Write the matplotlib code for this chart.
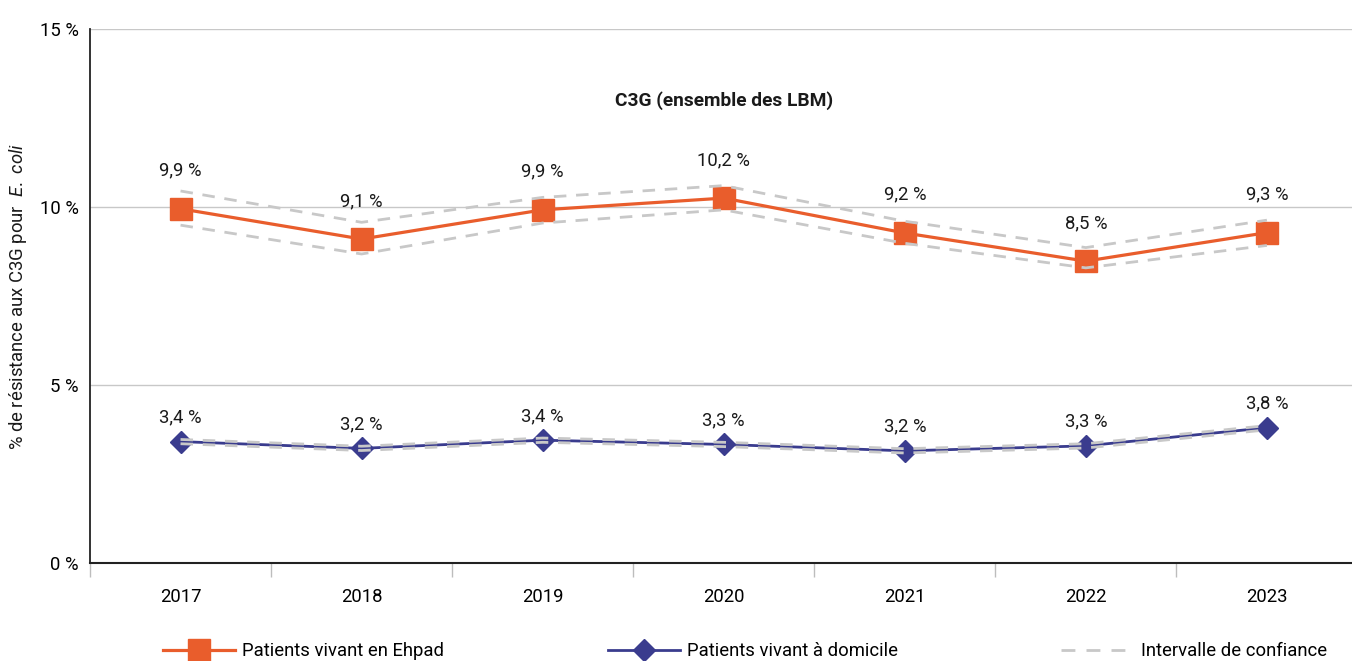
import matplotlib
matplotlib.use("Agg")
import matplotlib.pyplot as plt
from matplotlib.lines import Line2D
from matplotlib import font_manager

years = ["2017", "2018", "2019", "2020", "2021", "2022", "2023"]
ehpad = [9.95, 9.1, 9.92, 10.25, 9.27, 8.48, 9.28]
ehpad_labels = ["9,9 %", "9,1 %", "9,9 %", "10,2 %", "9,2 %", "8,5 %", "9,3 %"]
ehpad_low = [9.49, 8.68, 9.55, 9.92, 8.98, 8.29, 8.92]
ehpad_high = [10.45, 9.57, 10.27, 10.6, 9.6, 8.86, 9.63]
dom = [3.41, 3.22, 3.45, 3.33, 3.15, 3.29, 3.80]
dom_labels = ["3,4 %", "3,2 %", "3,4 %", "3,3 %", "3,2 %", "3,3 %", "3,8 %"]
dom_low = [3.35, 3.16, 3.39, 3.27, 3.09, 3.23, 3.74]
dom_high = [3.47, 3.28, 3.51, 3.39, 3.21, 3.35, 3.86]
yticks = [0, 5, 10, 15]
ytick_labels = ["0 %", "5 %", "10 %", "15 %"]

avail = {f.name for f in font_manager.fontManager.ttflist}
fam = "Liberation Sans Narrow" if "Liberation Sans Narrow" in avail else "Roboto"
plt.rcParams['font.family'] = [fam, 'DejaVu Sans']
plt.rcParams['mathtext.fontset'] = 'custom'
plt.rcParams['mathtext.it'] = fam + ':italic'
plt.rcParams['mathtext.rm'] = fam

ORANGE = "#E95D2C"
BLUE = "#3A3C8E"
GREY = "#C8C8C8"
FS = 13.3

fig = plt.figure(figsize=(13.52, 6.61), dpi=100)
ax = fig.add_axes([90/1352, 1-563/661, (1352-90)/1352, (563-29)/661])

x = list(range(len(years)))
ax.plot(x, ehpad, color=ORANGE, lw=2.3, marker='s', ms=16, zorder=3)
ax.plot(x, dom, color=BLUE, lw=2.0, marker='D', ms=11, zorder=3)
dash = (0, (4.5, 3.5))
for s in (ehpad_low, ehpad_high, dom_low, dom_high):
    ax.plot(x, s, color=GREY, lw=2.0, linestyle=dash, zorder=4)

for xi, v, l in zip(x, ehpad, ehpad_labels):
    ax.annotate(l, (xi, v), xytext=(0, 21), textcoords='offset points',
                ha='center', va='bottom', fontsize=FS, color='#1a1a1a')
for xi, v, l in zip(x, dom, dom_labels):
    ax.annotate(l, (xi, v), xytext=(0, 11), textcoords='offset points',
                ha='center', va='bottom', fontsize=FS, color='#1a1a1a')

ax.set_xlim(-0.5, 6.47)
ax.set_ylim(0, 15)
ax.set_yticks(yticks)
ax.set_yticklabels(ytick_labels, fontsize=FS)
ax.tick_params(axis='y', length=0, pad=8)
ax.set_xticks([i - 0.5 for i in range(7)])
ax.set_xticklabels([])
ax.set_xticks(x, minor=True)
ax.set_xticklabels(years, minor=True, fontsize=FS)
ax.tick_params(axis='x', which='major', length=10, color='#BDBDBD', width=1)
ax.tick_params(axis='x', which='minor', length=0, pad=18)
ax.grid(axis='y', color='#C8C8C8', lw=1)
ax.set_axisbelow(True)
for s in ('top', 'right'):
    ax.spines[s].set_visible(False)
ax.spines['left'].set_color('#222222')
ax.spines['bottom'].set_color('#222222')
ax.spines['left'].set_linewidth(1.3)
ax.spines['bottom'].set_linewidth(1.5)

ax.text(3, 13.0, "C3G (ensemble des LBM)", ha='center', va='center',
        fontsize=13.8, fontweight='bold', color='#1a1a1a')

fig.text(18/1352, 1-296/661, r"% de résistance aux C3G pour  $\mathit{E.\ coli}$",
         rotation=90, ha='center', va='center', fontsize=FS, color='#1a1a1a')

handles = [
    Line2D([], [], color=ORANGE, lw=2.3, marker='s', ms=16),
    Line2D([], [], color=BLUE, lw=2.0, marker='D', ms=11),
    Line2D([], [], color=GREY, lw=2.0, linestyle=(0, (5, 4))),
]
labels = ["Patients vivant en Ehpad", "Patients vivant à domicile", "Intervalle de confiance"]
fig.legend(handles, labels, loc='center', bbox_to_anchor=(745/1352, 1-651/661), ncol=3,
           frameon=False, fontsize=FS, handlelength=3.9, handletextpad=0.38,
           columnspacing=8.85)

fig.savefig("out.png", dpi=100)
